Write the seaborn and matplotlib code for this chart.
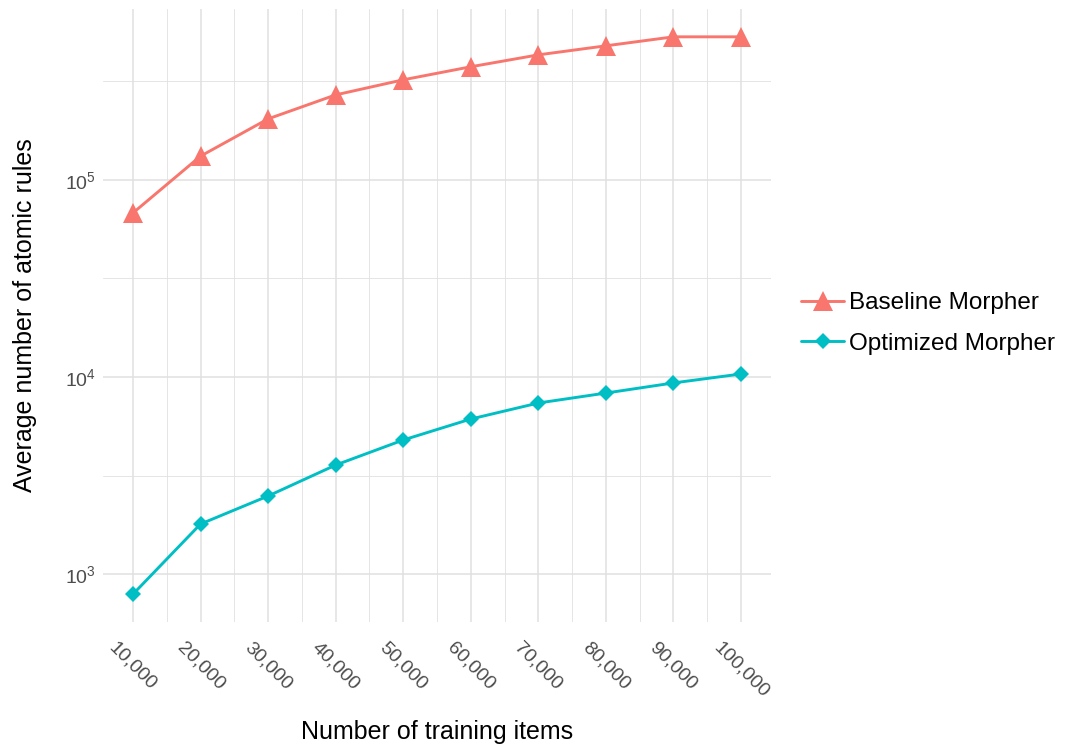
import numpy as np
import pandas as pd
import matplotlib
matplotlib.use("Agg")
import matplotlib.pyplot as plt
import matplotlib.ticker as mticker
import seaborn as sns

# --- dados ---
training_items = [10000, 20000, 30000, 40000, 50000, 60000, 70000, 80000, 90000, 100000]
baseline_rules = [68000, 132000, 204000, 270000, 322000, 375000, 431000, 479000, 532000, 532000]
optimized_rules = [791, 1795, 2490, 3575, 4790, 6120, 7380, 8290, 9330, 10360]
series_names = ["Baseline Morpher", "Optimized Morpher"]
x_tick_labels = ["10,000", "20,000", "30,000", "40,000", "50,000",
                 "60,000", "70,000", "80,000", "90,000", "100,000"]

df = pd.DataFrame({
    "items": training_items * 2,
    "rules": baseline_rules + optimized_rules,
    "model": [series_names[0]] * len(training_items) + [series_names[1]] * len(training_items),
})

sns.set_style("white")
plt.rcParams["font.family"] = ["Liberation Sans", "DejaVu Sans"]
plt.rcParams["mathtext.fontset"] = "custom"
plt.rcParams["mathtext.rm"] = "Liberation Sans"
plt.rcParams["text.color"] = "black"
plt.rcParams["axes.labelcolor"] = "black"

fig = plt.figure(figsize=(10.72, 7.47), dpi=100)
ax = fig.add_axes([0.0957, 0.1673, 0.6239, 0.8207])

grid_col = "#E0E0E0"
palette = {series_names[0]: "#F8766D", series_names[1]: "#00BFC4"}
marker_sizes = [15, 8.5]

sns.lineplot(
    data=df, x="items", y="rules", hue="model", style="model",
    markers={series_names[0]: "^", series_names[1]: "D"},
    dashes=False, palette=palette, linewidth=2.1,
    markeredgewidth=0, ax=ax, zorder=3,
)
for line, ms in zip(ax.get_lines(), marker_sizes):
    line.set_markersize(ms)

ax.set_yscale("log")

# limites com expansão de 5% (como no ggplot)
xmin, xmax = min(training_items), max(training_items)
xpad = (xmax - xmin) * 0.05
ax.set_xlim(xmin - xpad, xmax + xpad)
lo = np.log10(min(optimized_rules))
hi = np.log10(max(baseline_rules))
ypad = (hi - lo) * 0.05
ax.set_ylim(10 ** (lo - ypad), 10 ** (hi + ypad))

ax.xaxis.set_major_locator(mticker.FixedLocator(training_items))
ax.xaxis.set_minor_locator(mticker.FixedLocator([t + 5000 for t in training_items[:-1]]))
ax.set_xticklabels(x_tick_labels, rotation=-45, ha="center", va="top")

ax.yaxis.set_major_locator(mticker.FixedLocator([1e3, 1e4, 1e5]))
ax.yaxis.set_minor_locator(mticker.FixedLocator([10 ** 3.5, 10 ** 4.5, 10 ** 5.5]))
ax.yaxis.set_major_formatter(mticker.LogFormatterMathtext())
ax.yaxis.set_minor_formatter(mticker.NullFormatter())

ax.grid(which="major", color=grid_col, linewidth=1.1, zorder=0)
ax.grid(which="minor", color=grid_col, linewidth=0.6, zorder=0)
ax.set_axisbelow(True)
for s in ax.spines.values():
    s.set_visible(False)
ax.tick_params(which="both", length=0)
ax.tick_params(axis="x", pad=12, labelsize=14, labelcolor="#4D4D4D")
ax.tick_params(axis="y", pad=5, labelsize=14, labelcolor="#4D4D4D")

ax.set_xlabel("Number of training items", fontsize=18, labelpad=14)
ax.set_ylabel("Average number of atomic rules", fontsize=18, labelpad=20)

handles, labels = ax.get_legend_handles_labels()
for h, ms in zip(handles, marker_sizes):
    h.set_markersize(ms)
ax.legend(handles, labels, loc="center left", bbox_to_anchor=(0.7265, 0.567),
          bbox_transform=fig.transFigure, frameon=False, fontsize=17.5,
          handlelength=1.8, labelspacing=0.75, handletextpad=0.2)

fig.savefig("out.png", dpi=100)
